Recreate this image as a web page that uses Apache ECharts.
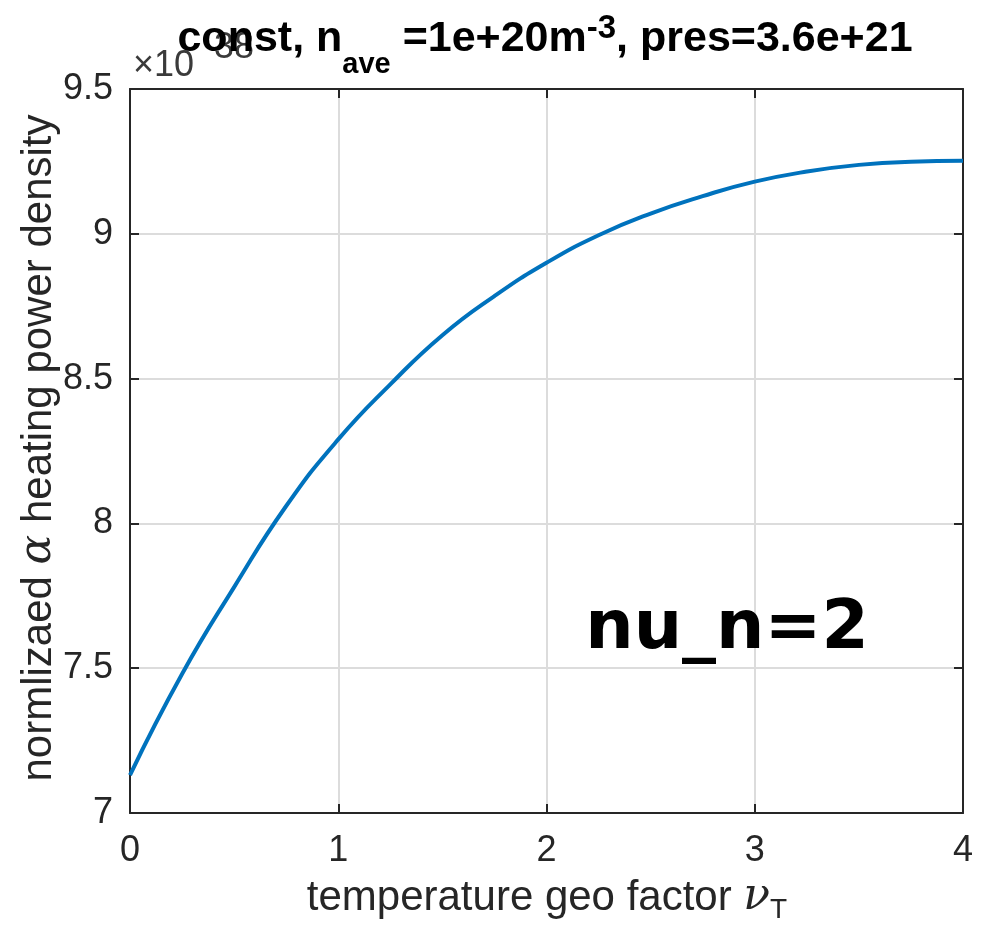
<!DOCTYPE html>
<html><head><meta charset="utf-8">
<script src="https://cdn.jsdelivr.net/npm/echarts@6/dist/echarts.min.js"></script>
<style>html,body{margin:0;padding:0;background:#fff}#c{width:984px;height:936px}</style>
</head><body><div id="c"></div>
<script>
// nu_T values (x) and normalized alpha heating power density (x 1e38)
const nuT = [0, 0.25, 0.5, 0.75, 1, 1.25, 1.5, 1.75, 2, 2.25, 2.5, 2.75, 3, 3.25, 3.5, 3.75, 4];
const power = [7.131, 7.48, 7.78, 8.06, 8.29, 8.48, 8.65, 8.785, 8.90, 8.995, 9.07, 9.13, 9.18, 9.215, 9.238, 9.249, 9.252];
const xTicks = [0, 1, 2, 3, 4];
const yTicks = [7, 7.5, 8, 8.5, 9, 9.5];

const chart = echarts.init(document.getElementById('c'));
const axCol = '#262626';
const fontF = '"Liberation Sans", Arial, sans-serif';
const common = {
  axisLine: {show: true, onZero: false, lineStyle: {color: axCol, width: 2}},
  axisTick: {show: true, inside: true, length: 9, lineStyle: {color: axCol, width: 2}},
  splitLine: {show: false}
};
const option = {
  animation: false,
  backgroundColor: '#fff',
  grid: {left: 130, right: 21, top: 89, bottom: 123},
  xAxis: [
    Object.assign({type: 'value', min: 0, max: 4, interval: 1, position: 'bottom',
      axisLabel: {color: axCol, fontSize: 36, fontFamily: fontF, margin: 20,
        formatter: v => xTicks.includes(v) ? String(v) : ''}}, common,
      {splitLine: {show: true, lineStyle: {color: '#dcdcdc', width: 2}}}),
    Object.assign({type: 'value', min: 0, max: 4, interval: 1, position: 'top',
      axisLabel: {show: false}}, common)
  ],
  yAxis: [
    Object.assign({type: 'value', min: 7, max: 9.5, interval: 0.5, position: 'left',
      axisLabel: {color: axCol, fontSize: 36, fontFamily: fontF, margin: 17,
        formatter: v => yTicks.includes(v) ? String(v) : ''}}, common,
      {splitLine: {show: true, lineStyle: {color: '#dcdcdc', width: 2}}}),
    Object.assign({type: 'value', min: 7, max: 9.5, interval: 0.5, position: 'right',
      axisLabel: {show: false}}, common)
  ],
  series: [{
    type: 'line', smooth: true, showSymbol: false,
    data: nuT.map((x, i) => [x, power[i]]),
    lineStyle: {color: '#0072BD', width: 4}, z: 5
  }],
  graphic: [
    {type: 'text', x: 133, y: 66, z: 1, style: {
      text: '×10', fontSize: 36, fontFamily: fontF, fill: '#3a3a3a', verticalAlign: 'middle'}},
    {type: 'text', x: 214, y: 48, z: 1, style: {
      text: '38', fontSize: 36, fontFamily: fontF, fill: '#3a3a3a', verticalAlign: 'middle'}},
    {type: 'text', x: 545, y: 39, z: 10, style: {
      align: 'center', verticalAlign: 'middle',
      rich: {
        m: {fontSize: 43, fontWeight: 'bold', fontFamily: fontF, fill: '#000', lineHeight: 81, verticalAlign: 'middle'},
        s: {fontSize: 29, fontWeight: 'bold', fontFamily: fontF, fill: '#000', verticalAlign: 'bottom'},
        p: {fontSize: 33, fontWeight: 'bold', fontFamily: fontF, fill: '#000', verticalAlign: 'middle', padding: [0, 0, 20, 0]}
      },
      text: '{m|const, n}{s|ave}{m| =1e+20m}{p|-3}{m|, pres=3.6e+21}'}},
    {type: 'text', x: 547, y: 898, style: {
      align: 'center', verticalAlign: 'middle',
      rich: {
        m: {fontSize: 42, fontFamily: fontF, fill: axCol},
        g: {fontSize: 44, fontFamily: '"DejaVu Serif", serif', fontStyle: 'italic', fill: axCol},
        s: {fontSize: 28, fontFamily: fontF, fill: axCol, verticalAlign: 'bottom', padding: [24, 0, 0, 0]}
      },
      text: '{m|temperature geo factor }{g|ν}{s|T}'}},
    {type: 'text', x: 39, y: 448, rotation: Math.PI / 2, style: {
      align: 'center', verticalAlign: 'middle',
      rich: {
        m: {fontSize: 42, fontFamily: fontF, fill: axCol},
        g: {fontSize: 44, fontFamily: '"DejaVu Serif", serif', fontStyle: 'italic', fill: axCol}
      },
      text: '{m|normlizaed }{g|α}{m| heating power density}'}},
    {type: 'text', x: 727, y: 630, z: 10, style: {
      align: 'center', verticalAlign: 'middle',
      text: 'nu_n=2', fontSize: 68, fontWeight: 'bold', fontFamily: '"DejaVu Sans", sans-serif', fill: '#000'}}
  ]
};
chart.setOption(option);
</script></body></html>
